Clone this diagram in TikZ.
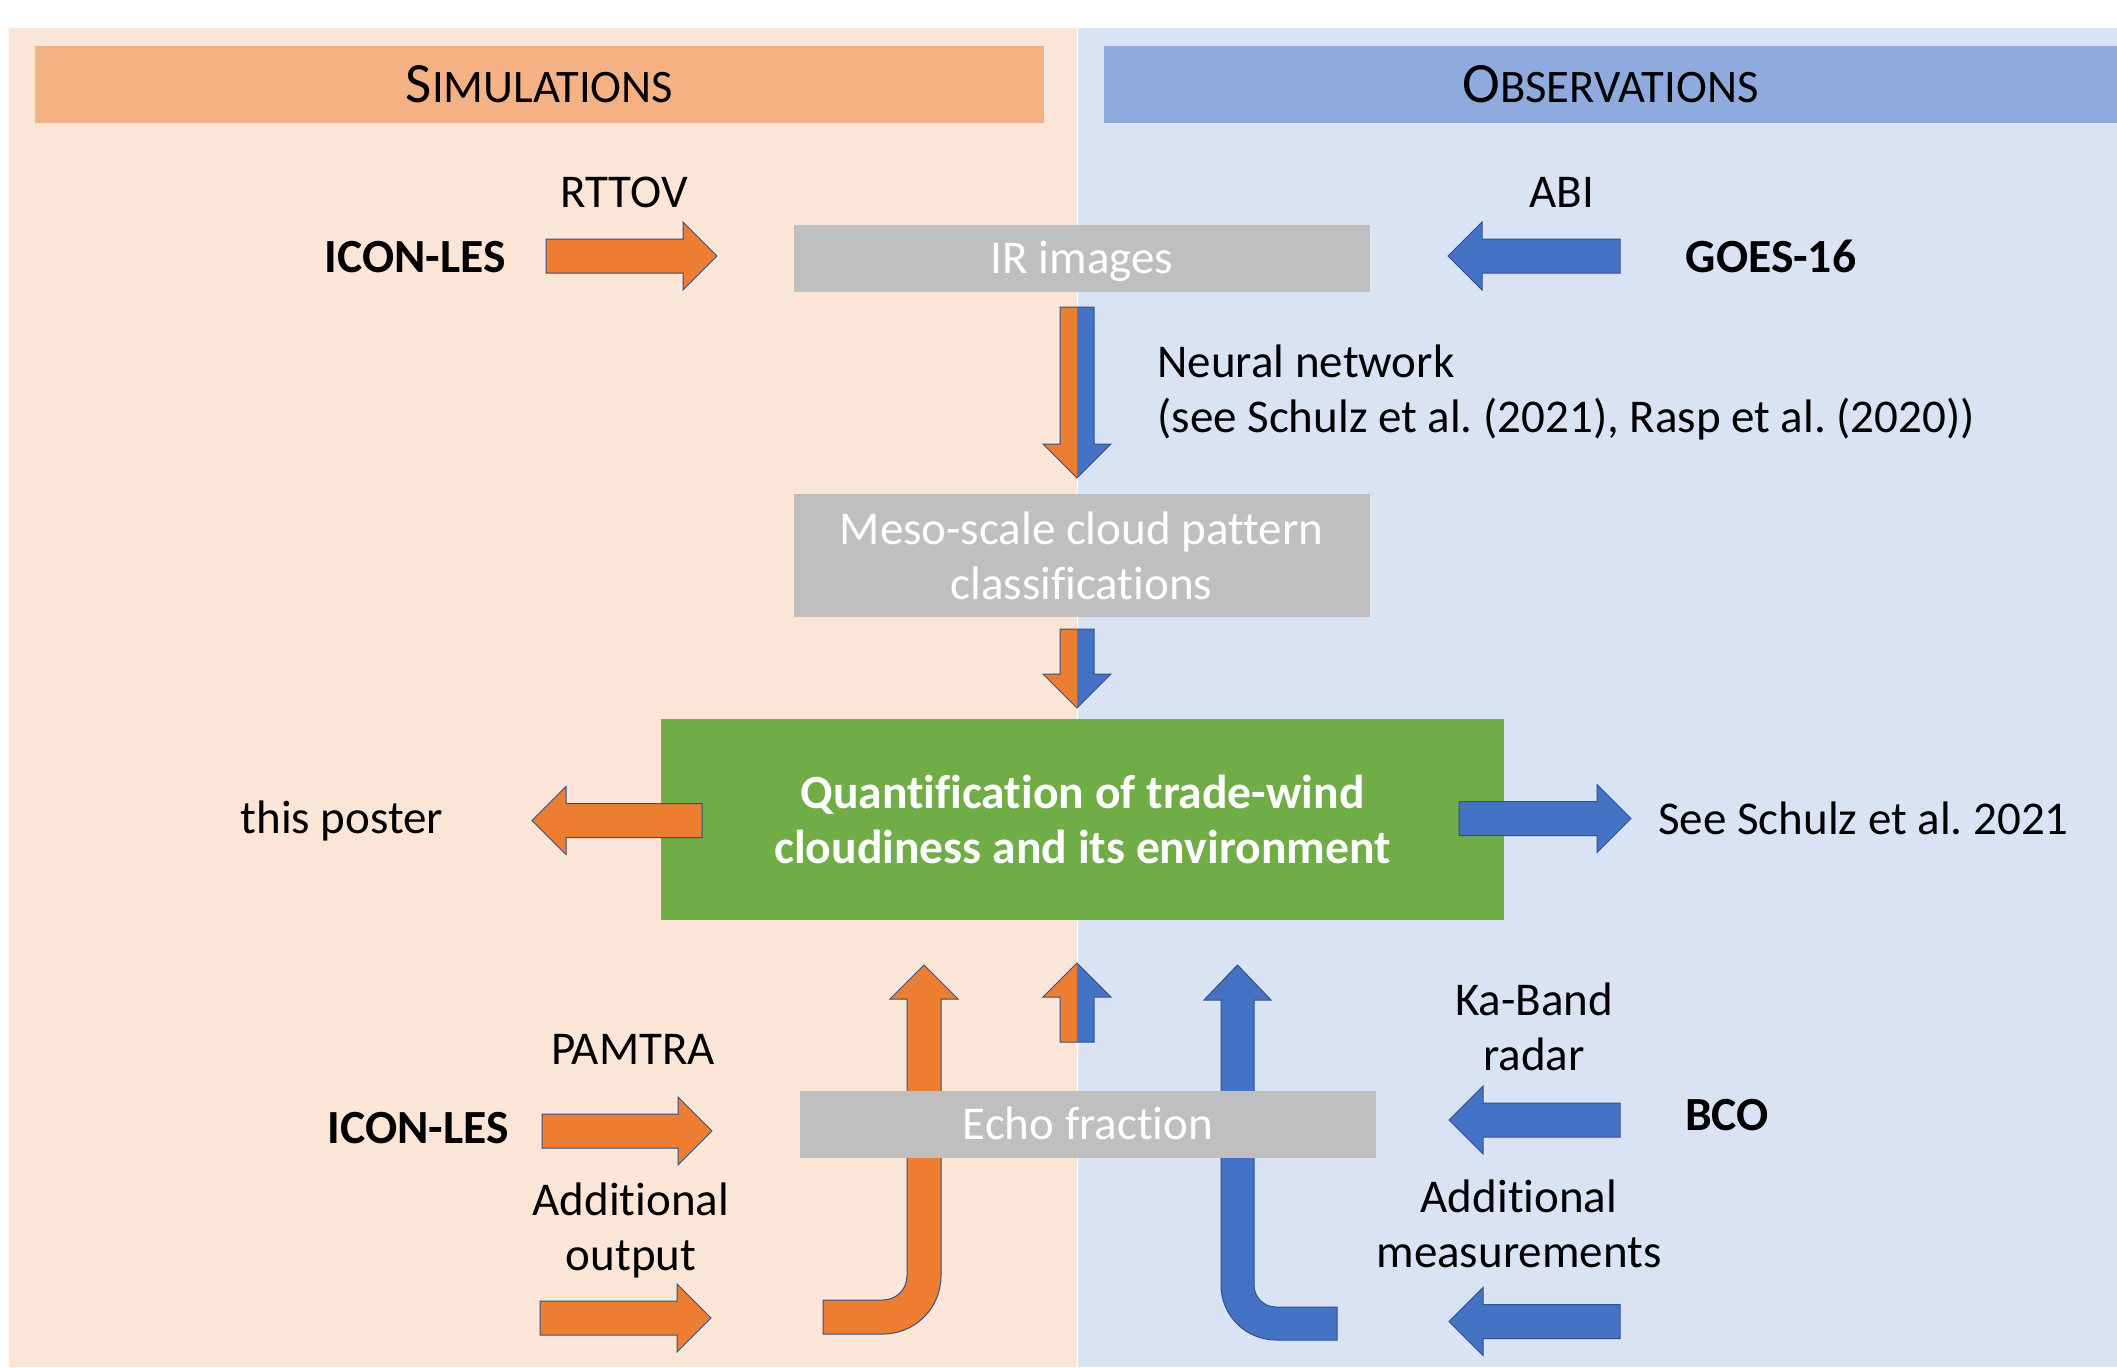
\documentclass[tikz,border=0pt]{standalone}
\usepackage{fontspec}
\setmainfont{Carlito}[Ligatures=NoCommon]
\frenchspacing
\usetikzlibrary{calc}
\definecolor{SimPanel}{RGB}{251,229,214}
\definecolor{ObsPanel}{RGB}{218,227,243}
\definecolor{SimHead}{RGB}{244,177,131}
\definecolor{ObsHead}{RGB}{143,170,220}
\definecolor{SimArrow}{RGB}{237,125,49}
\definecolor{ObsArrow}{RGB}{68,114,196}
\definecolor{BoxGray}{RGB}{191,191,191}
\definecolor{BoxGreen}{RGB}{112,173,71}
\definecolor{ArrowEdge}{RGB}{47,82,143}

% block arrows: shaft 17pt wide, head 34pt wide and 17pt long
\newcommand\arrowhalf[4]{%
  \coordinate (ah-n) at ($(#3)!17pt!(#2)$);
  \fill[#1] (#2) -- ($(#2)!8.5pt!#4:(#3)$) -- ($(ah-n)!8.5pt!#4:(#3)$)
    -- ($(ah-n)!17pt!#4:(#3)$) -- (#3) -- cycle;}
\newcommand\arrowoutline[2]{($(#1)!8.5pt!90:(#2)$) -- ($(ah-n)!8.5pt!90:(#2)$)
  -- ($(ah-n)!17pt!90:(#2)$) -- (#2) -- ($(ah-n)!17pt!-90:(#2)$)
  -- ($(ah-n)!8.5pt!-90:(#2)$) -- ($(#1)!8.5pt!-90:(#2)$) -- cycle}
\newcommand\solidarrow[3]{%
  \coordinate (ah-n) at ($(#3)!17pt!(#2)$);
  \filldraw[arrowedge,fill=#1] \arrowoutline{#2}{#3};}
\newcommand\splitarrow[4]{%
  \arrowhalf{#3}{#1}{#2}{90}\arrowhalf{#4}{#1}{#2}{-90}
  \draw[arrowedge] \arrowoutline{#1}{#2};}
\newcommand\capsfake[2]{{\fontsize{28.5}{30}\selectfont #1}{\fontsize{23.3}{30}\selectfont #2}}

\begin{document}
\begin{tikzpicture}[x=0.5pt,y=-0.5pt,
  every node/.style={inner sep=0pt,font=\fontsize{23.5}{27.5}\selectfont},
  head/.style={minimum height=38.5pt,text height=18.4pt,text depth=0pt},
  graybox/.style={fill=BoxGray,text=white,minimum width=288pt},
  oneline/.style={minimum height=33.5pt,text height=15.1pt,text depth=0pt},
  lbl/.style={anchor=base},
  src/.style={anchor=base,font=\fontsize{23.8}{27.5}\selectfont\bfseries},
  arrowedge/.style={draw=ArrowEdge,line width=0.5pt}]
  \useasboundingbox (0,0) rectangle (2117,1367);
  \fill[SimPanel] (9,28) rectangle (1077,1367);
  \fill[ObsPanel] (1077,28) rectangle (2117,1367);
  \draw[white,line width=0.5pt] (1077,28) -- (1077,1367);

  \node[head,fill=SimHead,minimum width=504.5pt] (simhead) at (539.5,84.5) {\capsfake{S}{IMULATIONS}};
  \node[head,fill=ObsHead,minimum width=506.5pt] (obshead) at (1610.5,84.5) {\capsfake{O}{BSERVATIONS}};

  % top row
  \node[src] (iconA) at (415,272) {ICON-LES};
  \node[lbl] (rttov) at (624,207) {RTTOV};
  \node[graybox,oneline] (irimg) at (1082,258.5) {IR images};
  \node[lbl] (abi) at (1562,207) {ABI};
  \node[src] (goes) at (1771,272) {GOES-16};
  \coordinate (rt-a) at (546,256);   \coordinate (rt-b) at (717,256);
  \coordinate (abi-a) at (1620,256); \coordinate (abi-b) at (1448,256);
  \solidarrow{SimArrow}{rt-a}{rt-b}
  \solidarrow{ObsArrow}{abi-a}{abi-b}

  \coordinate (nn-a) at (1077,307); \coordinate (nn-b) at (1077,478);
  \splitarrow{nn-a}{nn-b}{ObsArrow}{SimArrow}
  \node[anchor=west,align=left] (nnet) at (1157,392) {Neural network\\(see Schulz et al. (2021), Rasp et al. (2020))};

  \node[graybox,minimum height=61.5pt,align=center] (meso) at (1081.5,555.5) {Meso-scale cloud pattern\\classifications};
  \coordinate (cl-a) at (1077,629); \coordinate (cl-b) at (1077,708);
  \splitarrow{cl-a}{cl-b}{ObsArrow}{SimArrow}

  % centre row
  \node[fill=BoxGreen,text=white,minimum width=421.5pt,minimum height=100.5pt,align=center,
    font=\fontsize{23.8}{27.5}\selectfont\bfseries] (quant) at (1082.5,819.5)
    {Quantification of trade-wind\\cloudiness and its environment};
  \coordinate (po-a) at (702,820.5);  \coordinate (po-b) at (532,820.5);
  \coordinate (sc-a) at (1459,818.5); \coordinate (sc-b) at (1631,818.5);
  \solidarrow{SimArrow}{po-a}{po-b}
  \solidarrow{ObsArrow}{sc-a}{sc-b}
  \node[lbl] (poster) at (342,833) {this poster};
  \node[lbl,anchor=base west] (schulz) at (1658,834) {See Schulz et al. 2021};

  % bottom row
  \filldraw[arrowedge,fill=SimArrow] (823,1300) -- (883,1300) arc[start angle=90,end angle=0,radius=24]
    -- (907,999) -- (890,999) -- (924,965) -- (958,999) -- (941,999) -- (941,1276)
    arc[start angle=0,end angle=90,radius=58] -- (823,1334) -- cycle;
  \filldraw[arrowedge,fill=ObsArrow] (1337,1307) -- (1276,1307) arc[start angle=90,end angle=180,radius=22]
    -- (1254,1000) -- (1271,1000) -- (1237.5,965) -- (1204,1000) -- (1221,1000) -- (1221,1285)
    arc[start angle=180,end angle=90,radius=55] -- (1337,1340) -- cycle;
  \coordinate (ef-a) at (1077,1042); \coordinate (ef-b) at (1077,963);
  \splitarrow{ef-a}{ef-b}{SimArrow}{ObsArrow}
  \node[graybox,oneline] (echo) at (1088,1124.5) {Echo fraction};

  \node[lbl] (pamtra) at (633,1064) {PAMTRA};
  \node[src] (iconB) at (418,1143) {ICON-LES};
  \node[align=center] (addout) at (631,1230) {Additional\\output};
  \coordinate (pa-a) at (542,1131); \coordinate (pa-b) at (712,1131);
  \coordinate (ao-a) at (540,1318); \coordinate (ao-b) at (711,1318);
  \solidarrow{SimArrow}{pa-a}{pa-b}
  \solidarrow{SimArrow}{ao-a}{ao-b}

  \node[align=center] (kaband) at (1534,1027) {Ka-Band\\radar};
  \node[src] (bco) at (1727,1130) {BCO};
  \node[align=center] (addmeas) at (1519,1224) {Additional\\measurements};
  \coordinate (ka-a) at (1620,1120);   \coordinate (ka-b) at (1449,1120);
  \coordinate (am-a) at (1620,1321.5); \coordinate (am-b) at (1449,1321.5);
  \solidarrow{ObsArrow}{ka-a}{ka-b}
  \solidarrow{ObsArrow}{am-a}{am-b}
\end{tikzpicture}
\end{document}
